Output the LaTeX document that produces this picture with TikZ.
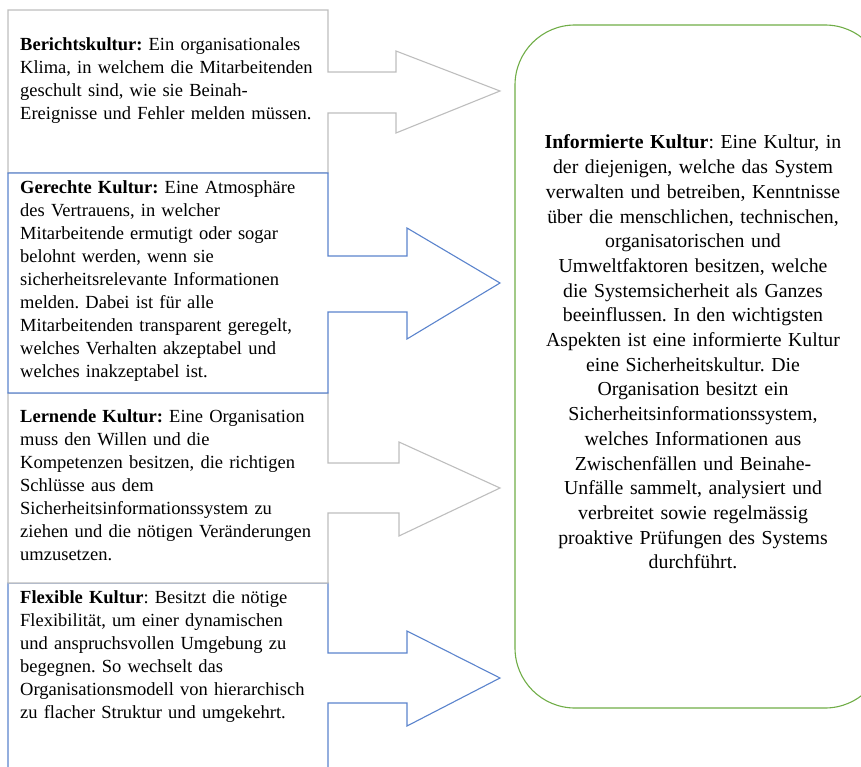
\documentclass[tikz,border=0pt]{standalone}
\usepackage{fontspec}
\setmainfont{Liberation Serif}
\usetikzlibrary{positioning}

\definecolor{accblue}{RGB}{91,132,205}
\definecolor{accgreen}{RGB}{112,173,71}
\definecolor{accgray}{RGB}{190,190,190}

\begin{document}
\frenchspacing
\begin{tikzpicture}[
  x=1pt,y=-1pt,
  callout/.style={line width=1.1pt,line join=miter,fill=white},
  graycall/.style={callout,draw=accgray},
  bluecall/.style={callout,draw=accblue},
  infobox/.style={draw=accgreen,line width=1.1pt,rounded corners=60pt},
  lefttext/.style={anchor=base west,inner sep=0pt,text width=320pt,align=left,
                   font=\fontsize{18.5}{23}\selectfont},
  infotext/.style={anchor=base,inner sep=0pt,text width=340pt,align=center,
                   font=\fontsize{19.8}{24.7}\selectfont},
]
\useasboundingbox (0,0) rectangle (861,767);
\clip (0,0) rectangle (861,767);

% ---- informed culture (right) -------------------------------------------
\draw[infobox] (515,25) rectangle (885,708);

% ---- callout arrows (left column) ---------------------------------------
\draw[bluecall] (8,583) -- (328,583) -- (328,653) -- (407,653) -- (407,631) -- (500,678)
  -- (407,726) -- (407,703) -- (328,703) -- (328,800) -- (8,800) -- cycle;
\draw[graycall] (8,393) -- (328,393) -- (328,463) -- (399,463) -- (399,442) -- (500,488)
  -- (399,536) -- (399,513) -- (328,513) -- (328,583) -- (8,583) -- cycle;
\draw[graycall] (8,10) -- (328,10) -- (328,72) -- (396,72) -- (396,51) -- (500,91)
  -- (396,133) -- (396,113) -- (328,113) -- (328,173) -- (8,173) -- cycle;
\draw[bluecall] (8,173) -- (328,173) -- (328,256) -- (407,256) -- (407,228) -- (500,283)
  -- (407,339) -- (407,312) -- (328,312) -- (328,393) -- (8,393) -- cycle;

% ---- texts ---------------------------------------------------------------
\node[lefttext] (bericht) at (20,50.5)
  {\textbf{Berichtskultur:} Ein organisationales\\
   Klima, in welchem die Mitarbeitenden\\
   geschult sind, wie sie Beinah-\\
   Ereignisse und Fehler melden müssen.};
\node[lefttext] (gerecht) at (20,193.5)
  {\textbf{Gerechte Kultur:} Eine Atmosphäre\\
   des Vertrauens, in welcher\\
   Mitarbeitende ermutigt oder sogar\\
   belohnt werden, wenn sie\\
   sicherheitsrelevante Informationen\\
   melden. Dabei ist für alle\\
   Mitarbeitenden transparent geregelt,\\
   welches Verhalten akzeptabel und\\
   welches inakzeptabel ist.};
\node[lefttext] (lernend) at (20,422.5)
  {\textbf{Lernende Kultur:} Eine Organisation\\
   muss den Willen und die\\
   Kompetenzen besitzen, die richtigen\\
   Schlüsse aus dem\\
   Sicherheitsinformationssystem zu\\
   ziehen und die nötigen Veränderungen\\
   umzusetzen.};
\node[lefttext] (flexibel) at (20,603.5)
  {\textbf{Flexible Kultur}: Besitzt die nötige\\
   Flexibilität, um einer dynamischen\\
   und anspruchsvollen Umgebung zu\\
   begegnen. So wechselt das\\
   Organisationsmodell von hierarchisch\\
   zu flacher Struktur und umgekehrt.};

\node[infotext] (informiert) at (693,149)
  {\textbf{Informierte Kultur}: Eine Kultur, in\\
   der diejenigen, welche das System\\
   verwalten und betreiben, Kenntnisse\\
   über die menschlichen, technischen,\\
   organisatorischen und\\
   Umweltfaktoren besitzen, welche\\
   die Systemsicherheit als Ganzes\\
   beeinflussen. In den wichtigsten\\
   Aspekten ist eine informierte Kultur\\
   eine Sicherheitskultur. Die\\
   Organisation besitzt ein\\
   Sicherheitsinformationssystem,\\
   welches Informationen aus\\
   Zwischenfällen und Beinahe-\\
   Unfälle sammelt, analysiert und\\
   verbreitet sowie regelmässig\\
   proaktive Prüfungen des Systems\\
   durchführt.};

\end{tikzpicture}
\end{document}
